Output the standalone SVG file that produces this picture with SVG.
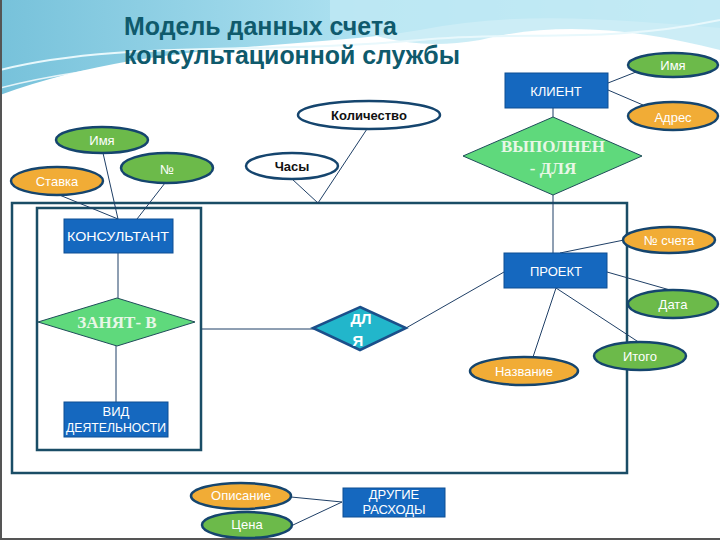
<svg xmlns="http://www.w3.org/2000/svg" width="720" height="540" viewBox="0 0 720 540">
<defs>
<linearGradient id="wave" x1="0" y1="0" x2="1" y2="0">
<stop offset="0" stop-color="#5fb7d4"/>
<stop offset="0.5" stop-color="#9fdcee"/>
<stop offset="1" stop-color="#c9eef7"/>
</linearGradient>
<style>
.ent{fill:#1568bf;stroke:#0e4f93;stroke-width:1}
.et{font-family:"Liberation Sans",sans-serif;font-size:13px;fill:#ffffff;text-anchor:middle}
.att{stroke:#15456e;stroke-width:2.5}
.g{fill:#6cba4a}
.o{fill:#f1ac36}
.w{fill:#ffffff}
.at{font-family:"Liberation Sans",sans-serif;font-size:13px;fill:#ffffff;text-anchor:middle}
.ab{font-family:"Liberation Sans",sans-serif;font-size:13px;fill:#111111;text-anchor:middle}
.rel{fill:#5fd97c;stroke:#1f4d5a;stroke-width:1}
.rt{font-family:"Liberation Serif",serif;font-size:17px;font-weight:bold;fill:#e8f7e6;text-anchor:middle}
.ln{stroke:#1f3f66;stroke-width:1;fill:none}
.box{fill:none;stroke:#1a4d66;stroke-width:2.5}
</style>
</defs>
<rect width="720" height="540" fill="#ffffff"/>
<g id="background">
<path d="M0 0 H720 V28 C620 20 520 10 420 30 C300 50 150 40 0 95 Z" fill="url(#wave)" opacity="0.85"/>
<path d="M330 0 H720 V50 C640 30 560 20 480 40 C420 50 380 40 330 20 Z" fill="#bfe8f4" opacity="0.8"/>
<path d="M0 70 C120 40 260 55 420 40 C520 30 600 45 720 20" stroke="#e8f8fc" stroke-width="2" fill="none"/>
<path d="M0 88 C150 50 300 60 480 52" stroke="#ffffff" stroke-width="1.5" fill="none" opacity="0.8"/>
<line x1="1" y1="0" x2="1" y2="540" stroke="#555555" stroke-width="2"/>
<line x1="0" y1="539" x2="720" y2="539" stroke="#555555" stroke-width="2"/>
</g>
<g id="title" font-family="Liberation Sans,Arial,sans-serif" font-size="25" font-weight="bold" fill="#0f5a6c">
<text x="124" y="35" textLength="273" lengthAdjust="spacingAndGlyphs">Модель данных счета</text>
<text x="124" y="64" textLength="336" lengthAdjust="spacingAndGlyphs">консультационной службы</text>
</g>
<g id="frames">
<rect class="box" x="12" y="203" width="615" height="270"/>
<rect class="box" x="37" y="208" width="164" height="242"/>
</g>
<g id="connectors" class="ln">
<line x1="608" y1="83" x2="636" y2="72"/>
<line x1="608" y1="90" x2="643" y2="105"/>
<line x1="553" y1="108" x2="553" y2="117"/>
<line x1="553" y1="195" x2="553" y2="253"/>
<line x1="560" y1="253" x2="624" y2="240"/>
<line x1="607" y1="272" x2="670" y2="290"/>
<line x1="556" y1="288" x2="640" y2="343"/>
<line x1="556" y1="288" x2="533" y2="357"/>
<line x1="406" y1="328" x2="504" y2="272"/>
<line x1="202" y1="329" x2="314" y2="329"/>
<line x1="57" y1="194" x2="118" y2="219"/>
<line x1="103" y1="153" x2="118" y2="219"/>
<line x1="165" y1="183" x2="137" y2="219"/>
<line x1="292" y1="179" x2="318" y2="203"/>
<line x1="367" y1="129" x2="318" y2="203"/>
<line x1="118" y1="253" x2="118" y2="298"/>
<line x1="116" y1="346" x2="116" y2="402"/>
<line x1="291" y1="497" x2="342" y2="502"/>
<line x1="293" y1="525" x2="342" y2="502"/>
</g>
<g id="client">
<rect class="ent" x="505" y="73" width="103" height="35"/>
<text class="et" x="556" y="96">КЛИЕНТ</text>
</g>
<g id="client-name">
<ellipse class="att g" cx="673" cy="65" rx="45" ry="12"/>
<text class="at" x="673" y="70">Имя</text>
</g>
<g id="client-address">
<ellipse class="att o" cx="673" cy="116" rx="45" ry="14"/>
<text class="at" x="673" y="122" font-size="15">Адрес</text>
</g>
<g id="performed-for">
<polygon class="rel" points="553,117 642,156 553,195 463,156"/>
<text class="rt" x="553" y="152">ВЫПОЛНЕН</text>
<text class="rt" x="553" y="174">- ДЛЯ</text>
</g>
<g id="project">
<rect class="ent" x="504" y="253" width="103" height="35"/>
<text class="et" x="556" y="276">ПРОЕКТ</text>
</g>
<g id="invoice-no">
<ellipse class="att o" cx="669" cy="240" rx="46" ry="13"/>
<text class="at" x="669" y="245" font-size="12">№ счета</text>
</g>
<g id="date">
<ellipse class="att g" cx="673" cy="304" rx="45" ry="14"/>
<text class="at" x="673" y="309">Дата</text>
</g>
<g id="total">
<ellipse class="att g" cx="640" cy="356" rx="46" ry="14"/>
<text class="at" x="640" y="361">Итого</text>
</g>
<g id="title-attr">
<ellipse class="att o" cx="524" cy="371" rx="54" ry="14"/>
<text class="at" x="524" y="376" font-size="12">Название</text>
</g>
<g id="for">
<polygon points="360,307 406,328 360,350 313,328" fill="#22b6cb" stroke="#1b4f8a" stroke-width="2.5"/>
<text x="361" y="324" font-family="Liberation Sans,sans-serif" font-size="15" font-weight="bold" fill="#ffffff" text-anchor="middle">ДЛ</text>
<text x="358" y="346" font-family="Liberation Sans,sans-serif" font-size="15" font-weight="bold" fill="#ffffff" text-anchor="middle">Я</text>
</g>
<g id="consultant">
<rect class="ent" x="64" y="219" width="109" height="34"/>
<text class="et" x="118" y="241" textLength="102" lengthAdjust="spacingAndGlyphs">КОНСУЛЬТАНТ</text>
</g>
<g id="cons-name">
<ellipse class="att g" cx="102" cy="140" rx="46" ry="13"/>
<text class="at" x="102" y="145">Имя</text>
</g>
<g id="cons-no">
<ellipse class="att g" cx="167" cy="168" rx="46" ry="15"/>
<text class="at" x="167" y="174" font-size="15">№</text>
</g>
<g id="rate">
<ellipse class="att o" cx="57" cy="181" rx="46" ry="14"/>
<text class="at" x="57" y="186" font-size="14">Ставка</text>
</g>
<g id="hours">
<ellipse class="att w" cx="292" cy="166" rx="46" ry="13"/>
<text class="ab" x="292" y="171" font-weight="bold">Часы</text>
</g>
<g id="quantity">
<ellipse class="att w" cx="369" cy="115" rx="71" ry="14"/>
<text class="ab" x="369" y="120" font-weight="bold">Количество</text>
</g>
<g id="busy-in">
<polygon class="rel" points="117,298 195,322 117,346 38,322"/>
<text class="rt" x="117" y="328">ЗАНЯТ- В</text>
</g>
<g id="activity">
<rect class="ent" x="64" y="402" width="104" height="35"/>
<text class="et" x="116" y="416" font-size="12">ВИД</text>
<text class="et" x="116" y="432" font-size="12" textLength="100" lengthAdjust="spacingAndGlyphs">ДЕЯТЕЛЬНОСТИ</text>
</g>
<g id="other-expenses">
<rect class="ent" x="343" y="488" width="102" height="29"/>
<text class="et" x="394" y="499" font-size="11">ДРУГИЕ</text>
<text class="et" x="394" y="514" font-size="11">РАСХОДЫ</text>
</g>
<g id="description">
<ellipse class="att o" cx="241" cy="496" rx="50" ry="13"/>
<text class="at" x="241" y="500" font-size="10">Описание</text>
</g>
<g id="price">
<ellipse class="att g" cx="247" cy="525" rx="45" ry="13"/>
<text class="at" x="247" y="529" font-size="10">Цена</text>
</g>
</svg>
